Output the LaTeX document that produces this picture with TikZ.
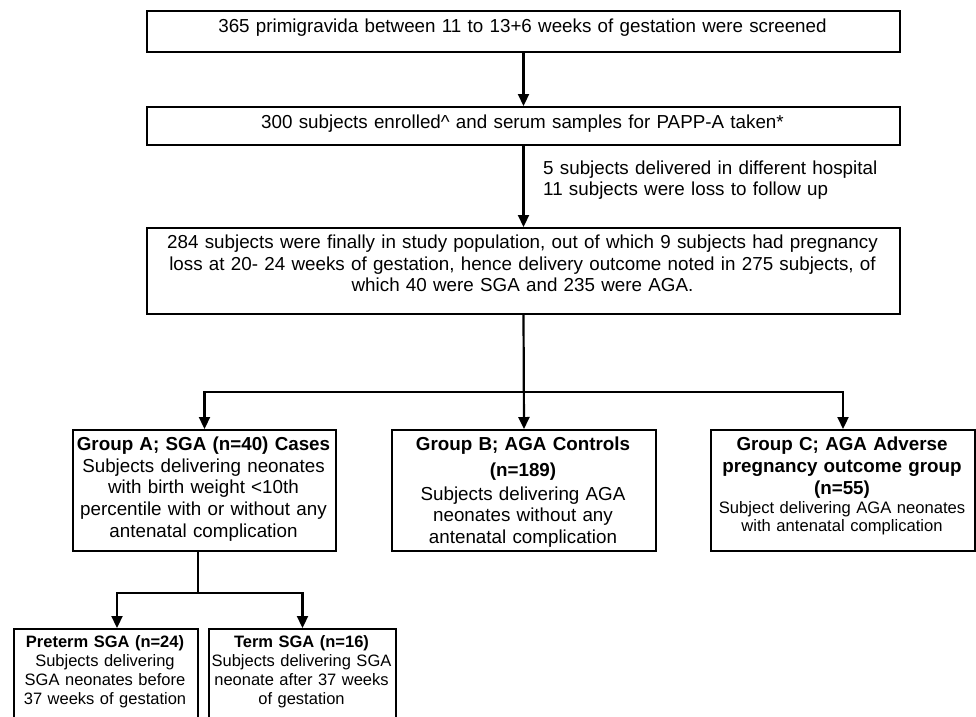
\documentclass[tikz,border=0pt]{standalone}
\usepackage{fontspec}
\setmainfont{Liberation Sans}
\usetikzlibrary{arrows.meta}
\begin{document}
\begin{tikzpicture}[x=1pt,y=-1pt,
  box/.style={draw=black, line width=2pt, inner sep=0pt, anchor=north west},
  txt/.style={inner sep=0pt, anchor=base, align=center, font=\fontsize{18.8}{21.7}\selectfont},
  btxt/.style={txt, font=\bfseries\fontsize{18.8}{21.7}\selectfont},
  stxt/.style={txt, font=\fontsize{16.6}{18.4}\selectfont},
  sbtxt/.style={txt, font=\bfseries\fontsize{16.5}{19}\selectfont},
  ssbody/.style={txt, font=\fontsize{16.5}{19}\selectfont},
  conn/.style={draw=black, line width=2.2pt},
  arr/.style={conn, -{Triangle[length=12pt,width=11pt]}}
]
\path[use as bounding box, clip] (0,0) rectangle (976,716);
\fill[white] (0,0) rectangle (976,716);

% boxes
\node[box, minimum width=753pt, minimum height=41pt] (b1) at (146,10) {};
\node[box, minimum width=753pt, minimum height=38pt] (b2) at (146,106) {};
\node[box, minimum width=753pt, minimum height=86pt] (b3) at (146,227) {};
\node[box, minimum width=263pt, minimum height=121pt] (gA) at (72,429) {};
\node[box, minimum width=264pt, minimum height=121pt] (gB) at (391,429) {};
\node[box, minimum width=264pt, minimum height=121pt] (gC) at (710,429) {};
\node[box, minimum width=184pt, minimum height=110pt] (pre) at (13,628) {};
\node[box, minimum width=187pt, minimum height=110pt] (term) at (208,628) {};

% texts
\node[txt, text width=740pt] (t1) at (522.5,32) {365 primigravida between 11 to 13+6 weeks of gestation were screened};
\node[txt, text width=740pt] (t2) at (522.5,128) {300 subjects enrolled\^{} and serum samples for PAPP-A taken*};
\node[txt, anchor=base west, align=left, text width=400pt] (side) at (543,174) {5 subjects delivered in different hospital\\11 subjects were loss to follow up};
\node[txt, text width=740pt] (t3) at (522.5,248.5) {284 subjects were finally in study population, out of which 9 subjects had pregnancy\\loss at 20- 24 weeks of gestation, hence delivery outcome noted in 275 subjects, of\\which 40 were SGA and 235 were AGA.};

\node[btxt, text width=260pt] (gAt) at (203.5,450.5) {Group A; SGA (n=40) Cases};
\node[txt, text width=260pt] (gAb) at (203.5,472) {Subjects delivering neonates\\with birth weight <10th\\percentile with or without any\\antenatal complication};

\node[btxt, text width=260pt, font=\bfseries\fontsize{18.8}{25.5}\selectfont] (gBt) at (523,450.5) {Group B; AGA Controls\\(n=189)};
\node[txt, text width=260pt] (gBb) at (523,500) {Subjects delivering AGA\\neonates without any\\antenatal complication};

\node[btxt, text width=260pt, font=\bfseries\fontsize{18.8}{22}\selectfont] (gCt) at (842,450.5) {Group C; AGA Adverse\\pregnancy outcome group\\(n=55)};
\node[stxt, text width=260pt] (gCb) at (842,513) {Subject delivering AGA neonates\\with antenatal complication};

\node[sbtxt, text width=182pt] (preT) at (105,647) {Preterm SGA (n=24)};
\node[ssbody, text width=182pt] (preB) at (105,666.5) {Subjects delivering\\SGA neonates before\\37 weeks of gestation};
\node[sbtxt, text width=186pt] (termT) at (301.5,647) {Term SGA (n=16)};
\node[ssbody, text width=186pt] (termB) at (301.5,666.5) {Subjects delivering SGA\\neonate after 37 weeks\\of gestation};

% connectors
\draw[arr] (b1) -- (b2);
\draw[arr] (b2) -- (b3);
\coordinate (j1) at (523,392);
\draw[arr] (b3.south) -- (gB.north);
\draw[arr] (j1) -| (gA.north);
\draw[arr] (j1) -| (gC.north);
\coordinate (j2) at (198,593);
\coordinate (preTop) at (117,628);
\draw[conn] (gA.south -| j2) -- (j2);
\draw[arr] (j2) -| (preTop);
\draw[arr] (j2) -| (term.north);
\end{tikzpicture}
\end{document}
